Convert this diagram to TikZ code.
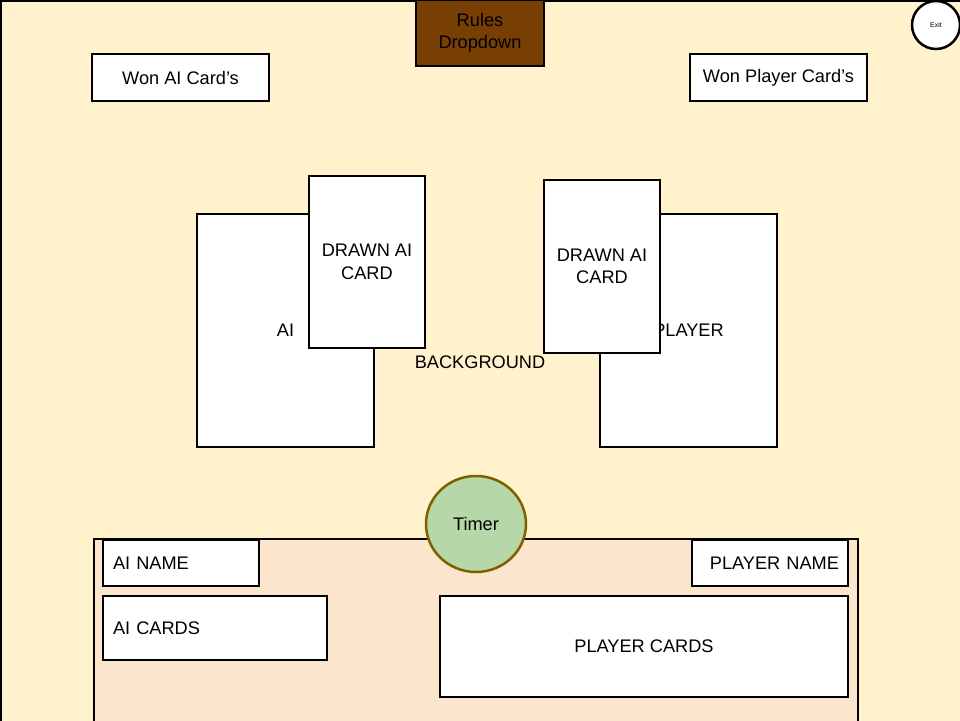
\documentclass[tikz,border=0pt]{standalone}
\usepackage{fontspec}
\setmainfont{Liberation Sans}
\usepackage{tikz}
\usetikzlibrary{shapes.geometric}
\definecolor{tablebg}{HTML}{FFF2CC}
\definecolor{handbg}{HTML}{FCE5CD}
\definecolor{rulesbrown}{HTML}{783F04}
\definecolor{timergreen}{HTML}{B6D7A8}
\definecolor{timerline}{HTML}{7F6000}
\tikzset{
	box/.style={draw=black, line width=2pt, fill=white, inner sep=0pt, align=center},
	leftbox/.style={box, inner xsep=10pt, align=left},
}
\begin{document}
\begin{tikzpicture}[x=1pt, y=-1pt, font=\fontsize{18.2}{22.5}\selectfont]
		%%%%% START %%%%%
		\useasboundingbox (0, 0) rectangle (960, 720);
		\clip (0, 0) rectangle (960, 720);
		
		\draw[line width=2pt, fill=tablebg] (1, 1) rectangle (980, 740);
		\node (bglabel) at (480, 362) {BACKGROUND};
		
		\node[box, fill=rulesbrown, minimum width=128pt, minimum height=66pt] (rules) at (480, 33) {Rules\\Dropdown};
		\node[draw=black, line width=2.5pt, fill=white, ellipse, inner sep=0pt, minimum width=48pt, minimum height=48pt, font=\fontsize{7}{8}\selectfont] (exit) at (936, 25) {Exit};
		
		\node[box, minimum width=177pt, minimum height=47pt] (wonai) at (180.5, 77.5) {Won AI Card’s};
		\node[box, minimum width=177pt, minimum height=47pt] (wonplayer) at (778.5, 77.5) {Won Player Card’s};
		
		\node[box, minimum width=177pt, minimum height=233pt] (ai) at (285.5, 330.5) {AI};
		\node[box, minimum width=116pt, minimum height=172pt] (drawnai) at (367, 262) {DRAWN AI\\CARD};
		\node[box, minimum width=177pt, minimum height=233pt] (player) at (688.5, 330.5) {PLAYER};
		\node[box, minimum width=116pt, minimum height=173pt] (drawnplayer) at (602, 266.5) {DRAWN AI\\CARD};
		
		\draw[line width=2pt, fill=handbg] (94, 539) rectangle (858, 740);
		\node[draw=timerline, line width=2.5pt, fill=timergreen, ellipse, inner sep=0pt, minimum width=100pt, minimum height=96pt] (timer) at (476, 524) {Timer};
		
		\node[leftbox, text width=136pt, minimum height=46pt] (ainame) at (181, 563) {AI NAME};
		\node[box, inner xsep=9pt, text width=138pt, align=right, minimum height=46pt] (playername) at (770, 563) {PLAYER NAME};
		\node[leftbox, text width=204pt, minimum height=64pt] (aicards) at (215, 628) {AI CARDS};
		\node[box, minimum width=408pt, minimum height=101pt] (playercards) at (644, 646.5) {PLAYER CARDS};
		%%%%% END %%%%%
	\end{tikzpicture}
\end{document}
